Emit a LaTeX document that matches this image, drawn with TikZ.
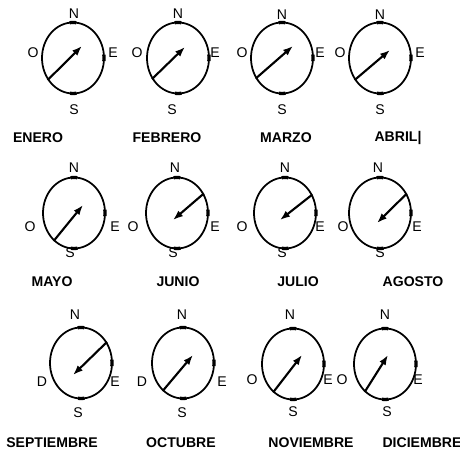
\documentclass[tikz,border=0pt]{standalone}
\usepackage{fontspec}
\setmainfont{Liberation Sans}
\usetikzlibrary{arrows.meta, shapes.geometric}

\begin{document}
\begin{tikzpicture}[
    x=0.3mm, y=0.3mm,
    every node/.style={inner sep=0pt},
    compass/.style={ellipse, draw, line width=1.5pt, minimum width=18.6mm,
        minimum height=21.3mm,
        postaction={draw, line width=2.8pt,
            dash pattern=on 2mm off 13.7mm on 2mm off 29.4mm on 2mm off 13.7mm, dash phase=1mm}},
    dirl/.style={font=\fontsize{12}{12}\selectfont},
    month/.style={font=\fontsize{12}{12}\selectfont\bfseries},
    needle/.style={-{Latex[length=3mm, width=2.2mm]}, line width=1.8pt},
]
\useasboundingbox (0,0) rectangle (460,451);

% =============================================
% ROW 1
% =============================================
\node[compass] (c1) at (73,393) {};
\node[dirl] (n1) at (74,437) {N};
\node[dirl] (o1) at (33,398) {O};
\node[dirl] (e1) at (113,398) {E};
\node[dirl] (s1) at (74,341) {S};
\node[month] (m1) at (38,313) {ENERO};
\coordinate (t1) at (82,405);
\draw[needle] (c1.221) -- (t1);

\node[compass] (c2) at (178,393) {};
\node[dirl] (n2) at (178,437) {N};
\node[dirl] (o2) at (137,398) {O};
\node[dirl] (e2) at (215,398) {E};
\node[dirl] (s2) at (172,341) {S};
\node[month] (m2) at (167,313) {FEBRERO};
\coordinate (t2) at (185,404);
\draw[needle] (c2.219) -- (t2);

\node[compass] (c3) at (282,393) {};
\node[dirl] (n3) at (282,436) {N};
\node[dirl] (o3) at (242,398) {O};
\node[dirl] (e3) at (320,398) {E};
\node[dirl] (s3) at (282,341) {S};
\node[month] (m3) at (286,313) {MARZO};
\coordinate (t3) at (293,405);
\draw[needle] (c3.218) -- (t3);

\node[compass] (c4) at (380,393) {};
\node[dirl] (n4) at (380,436) {N};
\node[dirl] (o4) at (340,398) {O};
\node[dirl] (e4) at (420,398) {E};
\node[dirl] (s4) at (380,341) {S};
\node[month] (m4) at (398,313) {ABRIL|};
\coordinate (t4) at (390,401);
\draw[needle] (c4.221) -- (t4);

% =============================================
% ROW 2
% =============================================
\node[compass] (c5) at (74,238) {};
\node[dirl] (n5) at (74,283) {N};
\node[dirl] (o5) at (30,224) {O};
\node[dirl] (e5) at (115,224) {E};
\node[dirl] (s5) at (70,198) {S};
\node[month] (m5) at (52,169) {MAYO};
\coordinate (t5) at (83,246);
\draw[needle] (c5.234) -- (t5);

\node[compass] (c6) at (177,238) {};
\node[dirl] (n6) at (175,283) {N};
\node[dirl] (o6) at (133,224) {O};
\node[dirl] (e6) at (215,224) {E};
\node[dirl] (s6) at (173,198) {S};
\node[month] (m6) at (178,169) {JUNIO};
\coordinate (t6) at (173,231);
\draw[needle] (c6.36) -- (t6);

\node[compass] (c7) at (285,238) {};
\node[dirl] (n7) at (285,283) {N};
\node[dirl] (o7) at (242,224) {O};
\node[dirl] (e7) at (320,224) {E};
\node[dirl] (s7) at (282,198) {S};
\node[month] (m7) at (298,169) {JULIO};
\coordinate (t7) at (280,231);
\draw[needle] (c7.34) -- (t7);

\node[compass] (c8) at (380,238) {};
\node[dirl] (n8) at (378,283) {N};
\node[dirl] (o8) at (343,224) {O};
\node[dirl] (e8) at (417,224) {E};
\node[dirl] (s8) at (380,198) {S};
\node[month] (m8) at (413,169) {AGOSTO};
\coordinate (t8) at (377,228);
\draw[needle] (c8.36) -- (t8);

% =============================================
% ROW 3
% =============================================
\node[compass] (c9) at (81,88) {};
\node[dirl] (n9) at (75,136) {N};
\node[dirl] (o9) at (42,69) {D};
\node[dirl] (e9) at (115,69) {E};
\node[dirl] (s9) at (78,38) {S};
\node[month] (m9) at (52,8) {SEPTIEMBRE};
\coordinate (t9) at (73,76);
\draw[needle] (c9.39) -- (t9);

\node[compass] (c10) at (183,88) {};
\node[dirl] (n10) at (182,136) {N};
\node[dirl] (o10) at (142,69) {D};
\node[dirl] (e10) at (222,69) {E};
\node[dirl] (s10) at (182,38) {S};
\node[month] (m10) at (181,8) {OCTUBRE};
\coordinate (t10) at (193,96);
\draw[needle] (c10.234) -- (t10);

\node[compass] (c11) at (293,87) {};
\node[dirl] (n11) at (290,136) {N};
\node[dirl] (o11) at (252,71) {O};
\node[dirl] (e11) at (328,71) {E};
\node[dirl] (s11) at (293,39) {S};
\node[month] (m11) at (311,8) {NOVIEMBRE};
\coordinate (t11) at (302,96);
\draw[needle] (c11.235) -- (t11);

\node[compass] (c12) at (385,87) {};
\node[dirl] (n12) at (385,136) {N};
\node[dirl] (o12) at (342,71) {O};
\node[dirl] (e12) at (418,71) {E};
\node[dirl] (s12) at (387,39) {S};
\node[month] (m12) at (422,8) {DICIEMBRE};
\coordinate (t12) at (388,96);
\draw[needle] (c12.234) -- (t12);

\end{tikzpicture}
\end{document}
